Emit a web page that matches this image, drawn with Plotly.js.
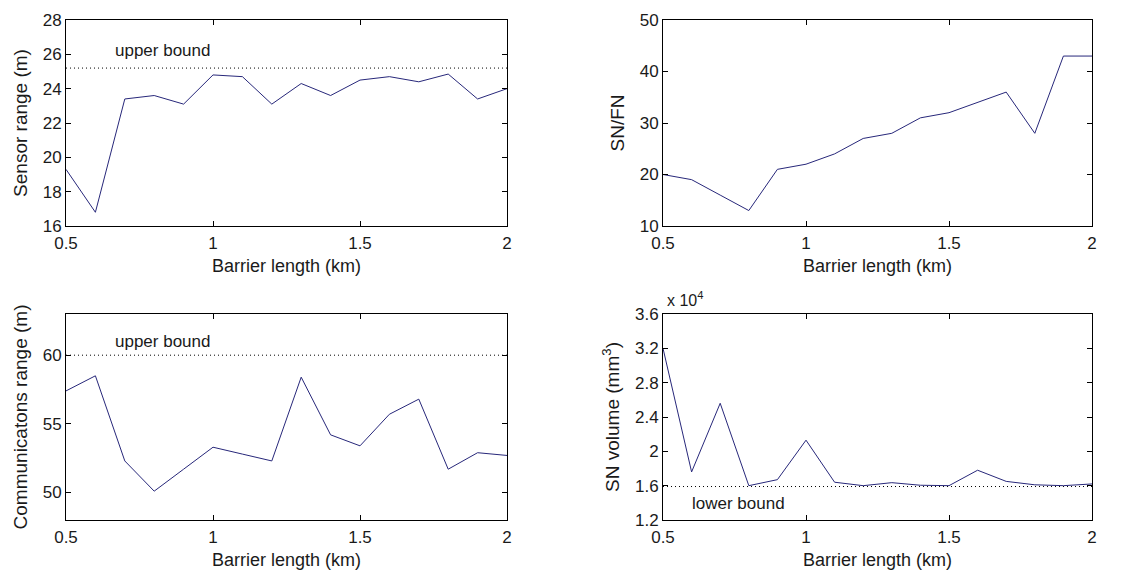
<!DOCTYPE html>
<html>
<head>
<meta charset="utf-8">
<script src="https://cdn.plot.ly/plotly-3.0.1.min.js"></script>
<style>html,body{margin:0;padding:0;background:#fff;}#chart{width:1135px;height:576px;}</style>
</head>
<body>
<div id="chart"></div>
<script>
// ---- data ----
const barrierLength = [0.5,0.6,0.7,0.8,0.9,1.0,1.1,1.2,1.3,1.4,1.5,1.6,1.7,1.8,1.9,2.0];
const sensorRange = [19.3,16.8,23.4,23.6,23.1,24.8,24.7,23.1,24.3,23.6,24.5,24.7,24.4,24.85,23.4,24.0];
const sensorUpperBound = 25.2;
const snPerFn = [20,19,16,13,21,22,24,27,28,31,32,34,36,28,43,43];
const commRange = [57.4,58.5,52.3,50.1,51.7,53.3,52.8,52.3,58.4,54.2,53.4,55.7,56.8,51.7,52.9,52.7];
const commUpperBound = 60;
const snVolume = [32000,17600,25600,16000,16700,21300,16400,16000,16350,16050,16000,17800,16500,16100,16000,16200];
const volumeLowerBound = 15900;
const xTicks = [0.5,1,1.5,2];
const xTickText = ["0.5","1","1.5","2"];
const sensorTicks = [16,18,20,22,24,26,28];
const snfnTicks = [10,20,30,40,50];
const commTicks = [50,55,60];
const volumeTicks = [12000,16000,20000,24000,28000,32000,36000];
const volumeTickText = ["1.2","1.6","2","2.4","2.8","3.2","3.6"];

// ---- layout helpers ----
const W = 1135, H = 576;
const FONT = "Liberation Sans, Arial, sans-serif";
const TXT = "#1a1a1a";
const LINE = "#27277a";
const DOT = '1px,3px';
function dx(a,b){return [a/W,b/W];}
function dy(top,bot){return [1-bot/H,1-top/H];}

function xax(domain, anchor){
  return {domain:domain, anchor:anchor, range:[0.5,2], tickvals:xTicks, ticktext:xTickText,
    ticks:'inside', ticklen:5, tickcolor:'#000', mirror:'allticks', showline:true, linecolor:'#000', linewidth:1,
    showgrid:false, zeroline:false, tickfont:{family:FONT,size:17,color:TXT}, ticklabelstandoff:2,
    title:{text:'Barrier length (km)', font:{family:FONT,size:18,color:TXT}, standoff:6}};
}
function yax(domain, anchor, range, tickvals, ticktext, title){
  const o = {domain:domain, anchor:anchor, range:range, tickvals:tickvals,
    ticks:'inside', ticklen:5, tickcolor:'#000', mirror:'allticks', showline:true, linecolor:'#000', linewidth:1,
    showgrid:false, zeroline:false, tickfont:{family:FONT,size:17,color:TXT},
    title:{text:title, font:{family:FONT,size:19,color:TXT}, standoff:10}};
  if (ticktext) o.ticktext = ticktext;
  return o;
}

const traces = [
  {x:barrierLength, y:sensorRange, xaxis:'x', yaxis:'y', mode:'lines', line:{color:LINE,width:1}},
  {x:[xTicks[0], xTicks[xTicks.length-1]], y:[sensorUpperBound,sensorUpperBound], xaxis:'x', yaxis:'y', mode:'lines', line:{color:'#000',width:1,dash:DOT}},
  {x:barrierLength, y:snPerFn, xaxis:'x2', yaxis:'y2', mode:'lines', line:{color:LINE,width:1}},
  {x:barrierLength, y:commRange, xaxis:'x3', yaxis:'y3', mode:'lines', line:{color:LINE,width:1}},
  {x:[xTicks[0], xTicks[xTicks.length-1]], y:[commUpperBound,commUpperBound], xaxis:'x3', yaxis:'y3', mode:'lines', line:{color:'#000',width:1,dash:DOT}},
  {x:barrierLength, y:snVolume, xaxis:'x4', yaxis:'y4', mode:'lines', line:{color:LINE,width:1}},
  {x:[xTicks[0], xTicks[xTicks.length-1]], y:[volumeLowerBound,volumeLowerBound], xaxis:'x4', yaxis:'y4', mode:'lines', line:{color:'#000',width:1,dash:DOT}}
];

const layout = {
  width:W, height:H, margin:{l:0,r:0,t:0,b:0}, showlegend:false,
  paper_bgcolor:'#fff', plot_bgcolor:'#fff',
  xaxis: xax(dx(66,507),'y'),
  yaxis: yax(dy(20,226),'x',[16,28],sensorTicks,null,'Sensor range (m)'),
  xaxis2: xax(dx(663,1092),'y2'),
  yaxis2: yax(dy(20,226),'x2',[10,50],snfnTicks,null,'SN/FN'),
  xaxis3: xax(dx(66,507),'y3'),
  yaxis3: yax(dy(314,520),'x3',[48,63],commTicks,null,'Communicatons range (m)'),
  xaxis4: xax(dx(663,1092),'y4'),
  yaxis4: yax(dy(314,520),'x4',[12000,36000],volumeTicks,volumeTickText,'SN volume (mm<sup>3</sup>)'),
  annotations:[
    {xref:'x', yref:'y', x:0.66, y:26.2, text:'upper bound', showarrow:false, xanchor:'left', yanchor:'middle', font:{family:FONT,size:17,color:TXT}},
    {xref:'x3', yref:'y3', x:0.66, y:61.0, text:'upper bound', showarrow:false, xanchor:'left', yanchor:'middle', font:{family:FONT,size:17,color:TXT}},
    {xref:'x4', yref:'y4', x:0.595, y:13980, text:'lower bound', showarrow:false, xanchor:'left', yanchor:'middle', font:{family:FONT,size:17,color:TXT}},
    {xref:'paper', yref:'paper', x:665/W, y:1-311/H, text:'x 10<sup>4</sup>', showarrow:false, xanchor:'left', yanchor:'bottom', font:{family:FONT,size:16,color:TXT}}
  ]
};

Plotly.newPlot('chart', traces, layout, {staticPlot:true, displayModeBar:false});
</script>
</body>
</html>
